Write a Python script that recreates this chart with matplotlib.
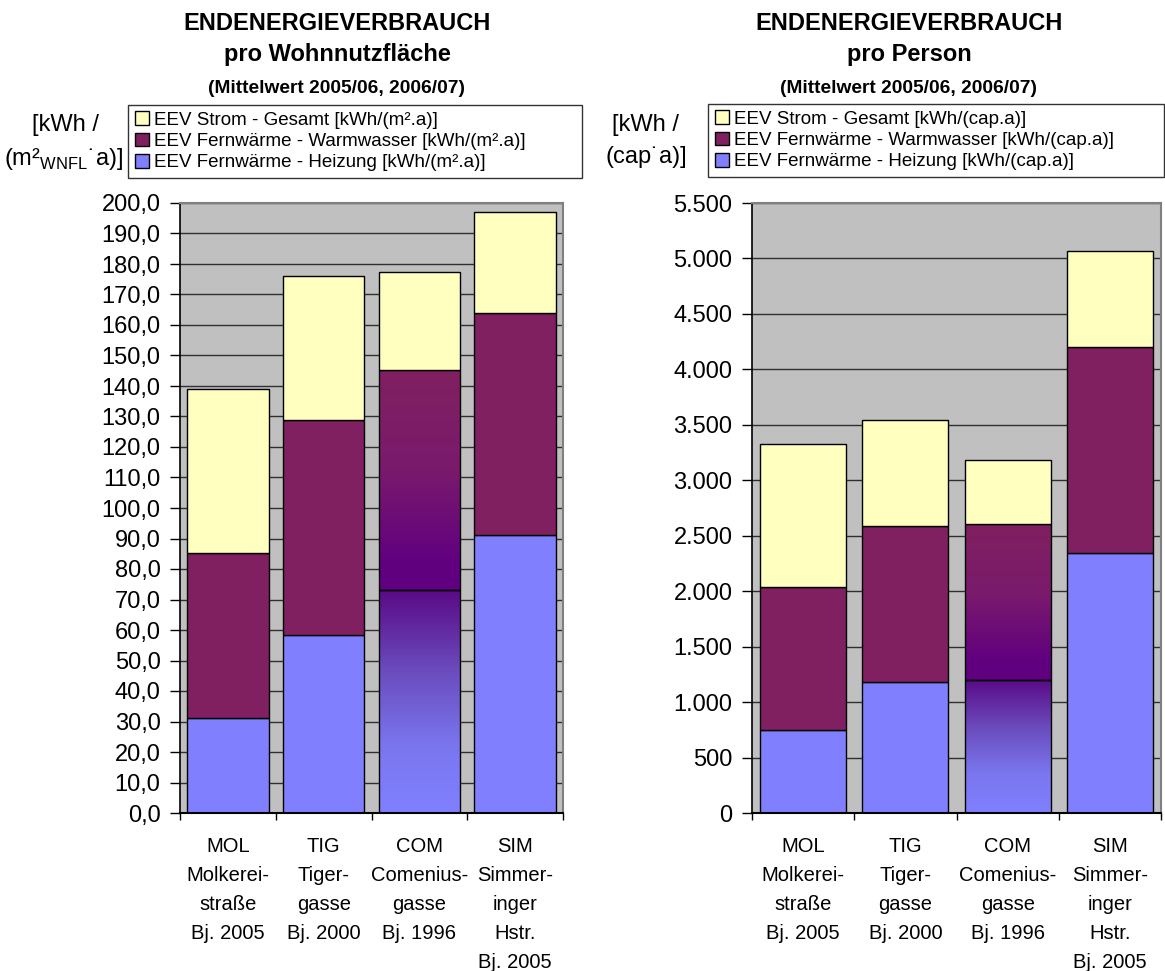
import numpy as np
import matplotlib
matplotlib.use("Agg")
import matplotlib.pyplot as plt
import matplotlib.ticker as mticker
from matplotlib.colors import LinearSegmentedColormap
from matplotlib.patches import Patch

plt.rcParams["font.family"] = ["Liberation Sans", "DejaVu Sans"]
plt.rcParams["mathtext.fontset"] = "custom"
plt.rcParams["mathtext.rm"] = "Liberation Sans"

# ─── Data ───────────────────────────────────────────────────────────────────
categories = [
    "MOL\nMolkerei-\nstraße\nBj. 2005",
    "TIG\nTiger-\ngasse\nBj. 2000",
    "COM\nComenius-\ngasse\nBj. 1996",
    "SIM\nSimmer-\ninger\nHstr.\nBj. 2005",
]

# per m² Wohnnutzfläche [kWh/(m².a)]
area_heizung = [31.2, 58.4, 73.1, 91.1]
area_warmwasser = [54.0, 70.5, 72.0, 72.7]
area_strom = [53.7, 47.1, 32.2, 33.2]

# per person [kWh/(cap.a)]
person_heizung = [750, 1177, 1201, 2348]
person_warmwasser = [1286, 1411, 1403, 1856]
person_strom = [1288, 956, 576, 859]

C_HEIZ = "#8080FF"
C_WW = "#802060"
C_STROM = "#FFFFC0"
BG = "#C0C0C0"

# COM bar is filled with a vertical gradient
cmap_heiz = LinearSegmentedColormap.from_list(
    "heiz", [(0, "#8080FF"), (0.3, "#7A76EE"), (0.65, "#6A4ABC"), (1, "#5A0A86")])
cmap_ww = LinearSegmentedColormap.from_list(
    "ww", [(0, "#600080"), (0.12, "#600080"), (0.55, "#7A1A6C"), (1, "#802060")])
GRADIENT_BAR = 2

W, H = 1165, 971
fig = plt.figure(figsize=(W / 100, H / 100), dpi=100)


def px_box(x0, y0, x1, y1):
    return [x0 / W, 1 - y1 / H, (x1 - x0) / W, (y1 - y0) / H]


def draw_panel(ax, heiz, ww, strom, ymax, step, fmt, width):
    x = np.arange(len(categories))
    ax.set_facecolor(BG)
    ax.set_axisbelow(True)
    b1 = ax.bar(x, heiz, width, color=C_HEIZ, edgecolor="black", linewidth=1, zorder=2)
    b2 = ax.bar(x, ww, width, bottom=heiz, color=C_WW, edgecolor="black", linewidth=1, zorder=2)
    bottom2 = np.array(heiz) + np.array(ww)
    ax.bar(x, strom, width, bottom=bottom2, color=C_STROM, edgecolor="black", linewidth=1, zorder=2)

    grad = np.linspace(0, 1, 256).reshape(-1, 1)
    for patch, cmap in ((b1[GRADIENT_BAR], cmap_heiz), (b2[GRADIENT_BAR], cmap_ww)):
        px, py = patch.get_x(), patch.get_y()
        pw, ph = patch.get_width(), patch.get_height()
        ax.imshow(grad, extent=[px, px + pw, py, py + ph], origin="lower",
                  aspect="auto", cmap=cmap, zorder=1.5, interpolation="bicubic")
        patch.set_facecolor("none")

    ax.set_xlim(-0.5, len(categories) - 0.5)
    ax.set_ylim(0, ymax)
    ax.yaxis.set_major_locator(mticker.MultipleLocator(step))
    ax.yaxis.set_major_formatter(mticker.FuncFormatter(fmt))
    ax.grid(axis="y", color="#303030", linewidth=1.0)
    ax.tick_params(axis="y", direction="out", length=7, width=1, pad=7, labelsize=17)

    ax.set_xticks(x)
    ax.set_xticklabels(categories, fontsize=14.5, linespacing=1.68)
    ax.tick_params(axis="x", which="major", length=0, pad=17)
    ax.set_xticks(np.arange(-0.5, len(categories)), minor=True)
    ax.tick_params(axis="x", which="minor", direction="out", length=5, width=1)

    for side in ("top", "right"):
        ax.spines[side].set_color("#808080")
        ax.spines[side].set_linewidth(1.5)
    ax.spines["left"].set_linewidth(1.2)
    ax.spines["bottom"].set_linewidth(1.5)


def fmt_area(v, pos):
    return f"{v:.1f}".replace(".", ",")


def fmt_person(v, pos):
    return f"{int(round(v)):,}".replace(",", ".")


ax1 = fig.add_axes(px_box(180, 203, 563, 813))
draw_panel(ax1, area_heizung, area_warmwasser, area_strom, 200, 10, fmt_area, 0.85)

ax2 = fig.add_axes(px_box(752, 203, 1161, 813))
draw_panel(ax2, person_heizung, person_warmwasser, person_strom, 5500, 500, fmt_person, 0.84)

# ─── Titles ─────────────────────────────────────────────────────────────────
for cx, sub in ((337, "pro Wohnnutzfläche"), (909, "pro Person")):
    fig.text(cx / W, 1 - 24 / H, "ENDENERGIEVERBRAUCH", ha="center", va="center",
             fontsize=17, fontweight="bold")
    fig.text(cx / W, 1 - 54 / H, sub, ha="center", va="center",
             fontsize=17, fontweight="bold")
    fig.text(cx / W, 1 - 88 / H, "(Mittelwert 2005/06, 2006/07)", ha="center",
             va="center", fontsize=13.8, fontweight="bold")

# unit labels
fig.text(65 / W, 1 - 125 / H, "[kWh /", ha="center", va="center", fontsize=17)
fig.text(63 / W, 1 - 159 / H, r"(m²$_{\mathrm{WNFL}}$˙a)]", ha="center", va="center", fontsize=17)
fig.text(646 / W, 1 - 125 / H, "[kWh /", ha="center", va="center", fontsize=17)
fig.text(646 / W, 1 - 157 / H, "(cap˙a)]", ha="center", va="center", fontsize=17)


# ─── Legends ────────────────────────────────────────────────────────────────
def add_legend(x0, y0, x1, unit):
    handles = [
        Patch(facecolor=C_STROM, edgecolor="black", linewidth=1),
        Patch(facecolor=C_WW, edgecolor="black", linewidth=1),
        Patch(facecolor=C_HEIZ, edgecolor="black", linewidth=1),
    ]
    labels = [
        f"EEV Strom - Gesamt [{unit}]",
        f"EEV Fernwärme - Warmwasser [{unit}]",
        f"EEV Fernwärme - Heizung [{unit}]",
    ]
    leg = fig.legend(handles, labels, loc="upper left",
                     bbox_to_anchor=(x0 / W, 1 - y0 / H, (x1 - x0) / W, 0.0001),
                     mode="expand", fontsize=13.5, frameon=True, fancybox=False,
                     shadow=False, handlelength=0.75, handleheight=0.75,
                     handletextpad=0.3, labelspacing=0.2, borderpad=0.35,
                     borderaxespad=0)
    leg.get_frame().set_edgecolor("black")
    leg.get_frame().set_linewidth(1)


add_legend(128, 105, 582, "kWh/(m².a)")
add_legend(708, 104, 1164, "kWh/(cap.a)")

fig.savefig("out.png", dpi=100)
